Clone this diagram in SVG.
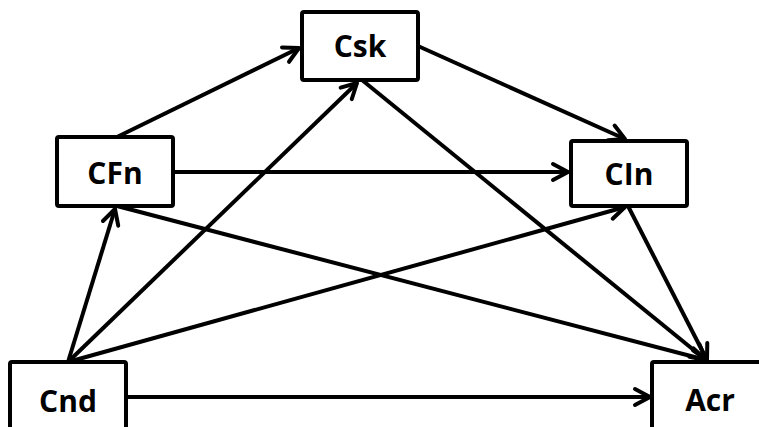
<svg xmlns="http://www.w3.org/2000/svg" width="759" height="427" viewBox="0 0 759 427">
<style>
.box{fill:#fff;stroke:#000;stroke-width:4}
.lbl{font-family:"Open Sans","Liberation Sans",sans-serif;font-weight:bold;font-size:30px;fill:#000;text-anchor:middle}
.edge{stroke:#000;stroke-width:4;fill:none;marker-end:url(#ah)}
</style>
<defs>
<marker id="ah" markerUnits="userSpaceOnUse" markerWidth="30" markerHeight="30" viewBox="-22 -15 30 30" refX="0" refY="0" orient="auto">
<path d="M-15,-8 L0,0 L-15,8" fill="none" stroke="#000" stroke-width="4" stroke-linecap="round" stroke-linejoin="round"/>
</marker>
</defs>
<rect width="759" height="427" fill="#fff"/>
<g id="connectors">
<line class="edge" x1="117" y1="137" x2="299" y2="48"/>
<line class="edge" x1="418" y1="46" x2="625" y2="139"/>
<line class="edge" x1="173" y1="172" x2="568" y2="172"/>
<line class="edge" x1="362" y1="80" x2="706" y2="360"/>
<line class="edge" x1="117" y1="206" x2="706" y2="360"/>
<line class="edge" x1="628" y1="206" x2="707" y2="360"/>
<line class="edge" x1="68" y1="362" x2="115" y2="209"/>
<line class="edge" x1="68" y1="362" x2="357" y2="83"/>
<line class="edge" x1="68" y1="362" x2="625" y2="207"/>
<line class="edge" x1="126" y1="397" x2="650" y2="397"/>
</g>
<g id="Csk"><rect class="box" x="302" y="12" width="116" height="68" rx="2"/><text class="lbl" x="360" y="57">Csk</text></g>
<g id="CFn"><rect class="box" x="57" y="137" width="116" height="69" rx="2"/><text class="lbl" x="115" y="184">CFn</text></g>
<g id="CIn"><rect class="box" x="571" y="141" width="116" height="65" rx="2"/><text class="lbl" x="629" y="185">CIn</text></g>
<g id="Cnd"><rect class="box" x="10" y="362" width="116" height="80" rx="2"/><text class="lbl" x="68" y="412">Cnd</text></g>
<g id="Acr"><rect class="box" x="652" y="362" width="116" height="80" rx="2"/><text class="lbl" x="710" y="411">Acr</text></g>
</svg>
